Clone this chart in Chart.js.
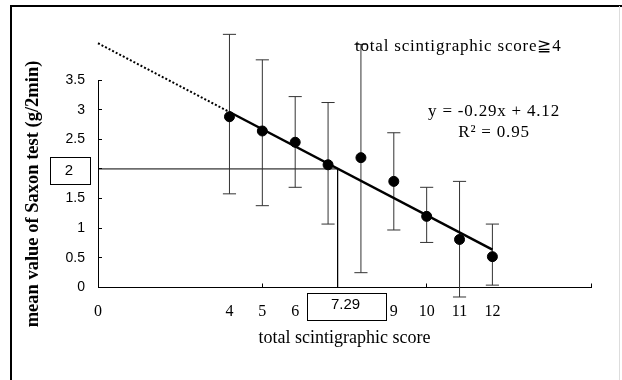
<!DOCTYPE html>
<html>
<head>
<meta charset="utf-8">
<script src="https://cdn.jsdelivr.net/npm/chart.js@4.4.1/dist/chart.umd.min.js"></script>
<style>
    html,body{margin:0;padding:0;background:#fff}
    #wrap{width:622px;height:380px}
</style>
</head>
<body>
<div id="wrap"><canvas id="saxonChart" width="622" height="380"></canvas></div>
<script>
    // data
    const scores = [4, 5, 6, 7, 8, 9, 10, 11, 12]
    const meanSaxon = [2.88, 2.64, 2.45, 2.07, 2.19, 1.79, 1.20, 0.81, 0.52]
    const upperErr = [4.27, 3.84, 3.22, 3.12, 4.10, 2.61, 1.69, 1.79, 1.07]
    const lowerErr = [1.58, 1.38, 1.69, 1.07, 0.25, 0.97, 0.76, -0.16, 0.04]
    const xTicks = [0, 4, 5, 6, 9, 10, 11, 12, 15]
    const xTickMarks = [5, 10, 15]
    const yTicks = [0, 0.5, 1, 1.5, 2, 2.5, 3, 3.5]
    const fitSlope = -0.29
    const fitIntercept = 4.12
    const fitStart = 4
    const fitEnd = 12
    const cutScore = 7.29
    const cutSaxon = 2
    const capHalf = 0.2

    const fit = x => fitSlope * x + fitIntercept
    const points = scores.map((s, i) => ({x: s, y: meanSaxon[i]}))
    const stems = []
    const caps = []
    scores.forEach((s, i) => {
        stems.push({x: s, y: lowerErr[i]}, {x: s, y: upperErr[i]}, {x: s, y: null})
        ;[upperErr[i], lowerErr[i]].forEach(e => {
            caps.push({x: s - capHalf, y: e}, {x: s + capHalf, y: e}, {x: s, y: null})
        })
    })

    const serif = '"Liberation Serif", "DejaVu Serif", serif'
    const sans = '"Liberation Sans", Arial, sans-serif'

    const overlay = {
        id: 'overlay',
        afterDraw(chart) {
            const ctx = chart.ctx
            const xs = chart.scales.x, ys = chart.scales.y
            ctx.save()
            // frame
            ctx.strokeStyle = '#000'
            ctx.lineWidth = 2
            ctx.beginPath()
            ctx.moveTo(11, 380); ctx.lineTo(11, 6); ctx.lineTo(622, 6)
            ctx.stroke()
            ctx.strokeStyle = '#ddd'
            ctx.lineWidth = 1
            ctx.beginPath(); ctx.moveTo(619.5, 6); ctx.lineTo(619.5, 380); ctx.stroke()

            ctx.fillStyle = '#000'
            ctx.strokeStyle = '#000'
            ctx.lineWidth = 1
            // boxed "2" on y axis
            const py = ys.getPixelForValue(cutSaxon)
            ctx.strokeRect(50.5, Math.round(py - 12) + 0.5, 40, 27)
            ctx.font = '15px ' + sans
            ctx.textAlign = 'center'
            ctx.textBaseline = 'middle'
            ctx.fillText(String(cutSaxon), 69, py + 2)
            // boxed "7.29" on x axis
            const px = xs.getPixelForValue(cutScore)
            const by = ys.getPixelForValue(0)
            ctx.strokeRect(Math.round(px - 31) + 0.5, Math.round(by + 5) + 0.5, 79, 27)
            ctx.fillText(String(cutScore), px + 8, by + 17)

            // annotations
            ctx.font = '17px ' + serif
            ctx.letterSpacing = '0.8px'
            ctx.textAlign = 'left'
            ctx.fillText('total scintigraphic score\u2267' + '4', 355, 47)
            ctx.textAlign = 'center'
            ctx.fillText('y = -0.29x + 4.12', 494, 112)
            ctx.fillText('R\u00b2 = 0.95', 494, 133)
            ctx.letterSpacing = '0px'

            // y title
            ctx.translate(33, 194)
            ctx.rotate(-Math.PI / 2)
            ctx.font = 'bold 18.5px ' + serif
            ctx.fillText('mean value of Saxon test (g/2min)', 0, 0)
            ctx.restore()
        }
    }

    new Chart(document.getElementById('saxonChart').getContext('2d'), {
        type: 'scatter',
        data: {
            datasets: [{
                label: 'mean',
                data: points,
                pointRadius: 5,
                pointBackgroundColor: '#000',
                pointBorderColor: '#000',
                clip: false
            }, {
                label: 'fit',
                data: [{x: fitStart, y: fit(fitStart)}, {x: fitEnd, y: fit(fitEnd)}],
                showLine: true,
                borderColor: '#000',
                borderWidth: 2.5,
                pointRadius: 0,
                clip: false
            }, {
                label: 'fit extrapolated',
                data: [{x: 0, y: fit(0)}, {x: fitStart, y: fit(fitStart)}],
                showLine: true,
                borderColor: '#000',
                borderWidth: 2,
                borderDash: [2, 2],
                pointRadius: 0,
                clip: false
            }, {
                label: 'error bars',
                data: stems,
                showLine: true,
                spanGaps: false,
                borderColor: '#333',
                borderWidth: 1,
                pointRadius: 0,
                clip: false
            }, {
                label: 'caps',
                data: caps,
                showLine: true,
                spanGaps: false,
                borderColor: '#333',
                borderWidth: 1,
                pointRadius: 0,
                clip: false
            }, {
                label: 'cut-off',
                data: [{x: 0, y: cutSaxon}, {x: cutScore, y: cutSaxon}, {x: cutScore, y: 0}],
                showLine: true,
                borderColor: '#000',
                borderWidth: 1,
                pointRadius: 0,
                clip: false
            }]
        },
        options: {
            responsive: false,
            animation: false,
            layout: {padding: {top: 80, right: 31, left: 0, bottom: 0}},
            plugins: {legend: {display: false}, tooltip: {enabled: false}},
            scales: {
                x: {
                    type: 'linear',
                    min: 0,
                    max: 15,
                    afterBuildTicks: s => { s.ticks = xTicks.map(v => ({value: v})) },
                    afterFit: s => { s.height = 92.5 },
                    ticks: {
                        autoSkip: false,
                        maxRotation: 0,
                        padding: 19,
                        color: '#000',
                        font: {family: serif, size: 16},
                        callback: v => v === 15 ? '' : String(v)
                    },
                    grid: {
                        drawOnChartArea: false,
                        drawTicks: true,
                        tickLength: -4,
                        tickColor: c => xTickMarks.includes(c.tick.value) ? '#000' : 'rgba(0,0,0,0)'
                    },
                    border: {color: '#000', width: 1},
                    title: {
                        display: true,
                        text: 'total scintigraphic score',
                        color: '#000',
                        font: {family: serif, size: 18},
                        padding: {top: 0, bottom: 31}
                    }
                },
                y: {
                    min: 0,
                    max: 3.5,
                    afterBuildTicks: s => { s.ticks = yTicks.map(v => ({value: v})) },
                    afterFit: s => { s.width = 98 },
                    ticks: {
                        padding: 17,
                        color: '#000',
                        font: {family: sans, size: 14},
                        callback: v => v === cutSaxon ? '' : String(v)
                    },
                    grid: {
                        drawOnChartArea: false,
                        drawTicks: true,
                        tickLength: -4,
                        tickColor: '#000'
                    },
                    border: {color: '#000', width: 1}
                }
            }
        },
        plugins: [overlay]
    })
</script>
</body>
</html>
